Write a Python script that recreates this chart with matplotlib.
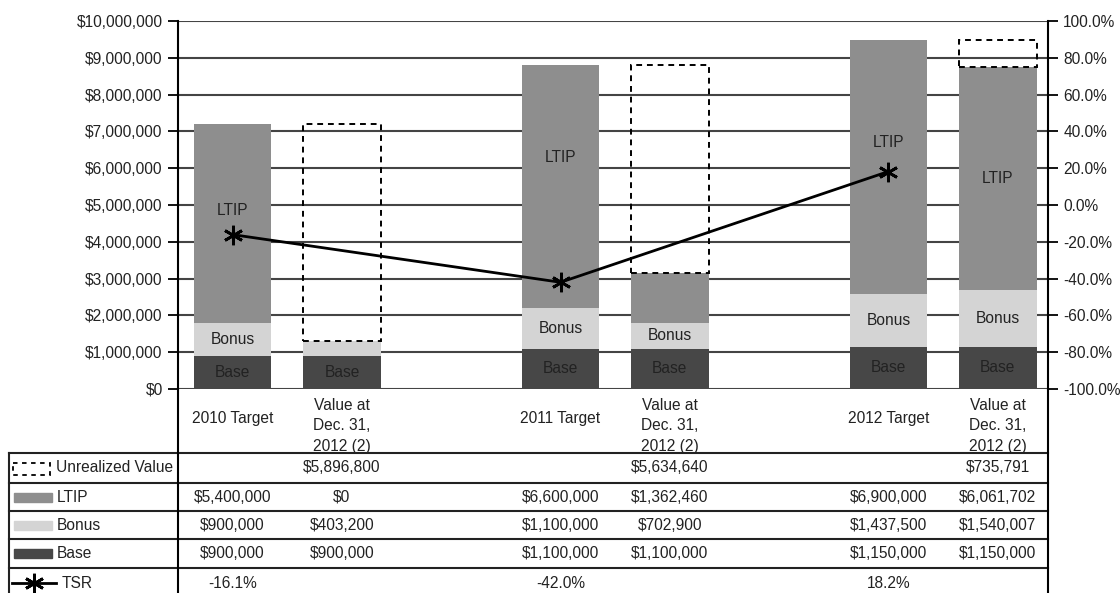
import numpy as np
import matplotlib
matplotlib.use('Agg')
from matplotlib import pyplot as plt
from matplotlib import transforms
from matplotlib.patches import Rectangle
from matplotlib.lines import Line2D
from matplotlib.ticker import FuncFormatter

plt.rcParams['font.family'] = ['Liberation Sans', 'DejaVu Sans']

#******************** 数据 ********************
categories = ['2010 Target', 'Value at\nDec. 31,\n2012 (2)',
              '2011 Target', 'Value at\nDec. 31,\n2012 (2)',
              '2012 Target', 'Value at\nDec. 31,\n2012 (2)']
positions = [0, 1, 3, 4, 6, 7]
is_value = [False, True, False, True, False, True]
base = [900000, 900000, 1100000, 1100000, 1150000, 1150000]
bonus = [900000, 403200, 1100000, 702900, 1437500, 1540007]
ltip = [5400000, 0, 6600000, 1362460, 6900000, 6061702]
unrealized = [0, 5896800, 0, 5634640, 0, 735791]
tsr_pos = [0, 3, 6]
tsr = [-16.1, -42.0, 18.2]

#******************** 样式 ********************
c_base, c_bonus, c_ltip = '#474747', '#d4d4d4', '#8e8e8e'
txt = '#222222'
fs = 11.2
W, H = 1120, 593
ltip_shift = [0.35e6, 0, 0.8e6, 0, 0.65e6, 0]   # 标签位置微调

fig = plt.figure(figsize=(W / 100, H / 100), dpi=100)
ax = fig.add_axes([178 / W, (H - 389) / H, 870 / W, 368 / H])
ax.set_xlim(-0.5, 7.46)
ax.set_ylim(0, 10000000)
ax.set_yticks(np.arange(0, 10000001, 1000000))
ax.yaxis.set_major_formatter(FuncFormatter(lambda v, p: '${:,.0f}'.format(v)))
ax.set_xticks([])
ax.set_axisbelow(True)
ax.yaxis.grid(True, color='#444444', lw=1.5)
for s in ['top', 'bottom', 'right']:
    ax.spines[s].set_visible(False)
ax.spines['left'].set_linewidth(1.5)
ax.tick_params(axis='y', length=7, width=1.3, labelsize=fs, labelcolor=txt, pad=4)

b = np.array(base, dtype=float)
bo = np.array(bonus, dtype=float)
lt = np.array(ltip, dtype=float)
un = np.array(unrealized, dtype=float)
pos = np.array(positions)
wd = 0.71
ax.bar(pos, b, wd, color=c_base, zorder=2)
ax.bar(pos, bo, wd, bottom=b, color=c_bonus, zorder=2)
ax.bar(pos, lt, wd, bottom=b + bo, color=c_ltip, zorder=2)
m = un > 0
ax.bar(pos[m], un[m], wd, bottom=(b + bo + lt)[m], fill=False, edgecolor='black',
       linestyle=(0, (3, 2.5)), lw=1.4, zorder=3)

# 柱内文字
for i, x in enumerate(positions):
    ax.text(x, b[i] / 2, 'Base', ha='center', va='center', fontsize=fs, color=txt, zorder=4)
    if bo[i] > 500000:
        ax.text(x, b[i] + bo[i] / 2, 'Bonus', ha='center', va='center', fontsize=fs, color=txt, zorder=4)
    if lt[i] > 2000000:
        ax.text(x, b[i] + bo[i] + lt[i] / 2 + ltip_shift[i], 'LTIP', ha='center', va='center',
                fontsize=fs, color=txt, zorder=4)

# TSR 折线（右轴）
ax2 = ax.twinx()
ax2.set_ylim(-100, 100)
ax2.set_yticks(np.arange(-100, 101, 20))
ax2.yaxis.set_major_formatter(FuncFormatter(lambda v, p: '{:.1f}%'.format(v)))
for s in ['top', 'bottom', 'left']:
    ax2.spines[s].set_visible(False)
ax2.spines['right'].set_linewidth(1.5)
ax2.tick_params(axis='y', length=7, width=1.3, labelsize=fs, labelcolor=txt, pad=4)
ax2.plot(tsr_pos, tsr, color='black', lw=2, marker=(6, 2, 0), markersize=14, mew=2)

#******************** 下方表格 ********************
tab = fig.add_axes([0, 0, 1, 1], zorder=-1)
tab.set_xlim(0, W)
tab.set_ylim(H, 0)
tab.axis('off')
bt = transforms.blended_transform_factory(ax.transData, tab.transData)

# 类别标签
for i, x in enumerate(positions):
    y = 426 if is_value[i] else 418
    tab.text(x, y, categories[i], transform=bt, ha='center', va='center',
             fontsize=fs, color=txt, linespacing=1.45)

rows = [453, 483, 511, 539, 568]
for y in rows:
    tab.plot([9, 1048], [y, y], color='#222222', lw=1.5)
tab.plot([9, 9], [453, H], color='#222222', lw=1.5)
tab.plot([178, 178], [389, H], color='black', lw=1.5)
tab.plot([1048, 1048], [389, H], color='black', lw=1.5)

row_y = [468, 497, 525, 553, 583]
for i, x in enumerate(positions):
    if is_value[i]:
        tab.text(x, row_y[0], '${:,.0f}'.format(un[i]), transform=bt, ha='center', va='center', fontsize=fs, color=txt)
    tab.text(x, row_y[1], '${:,.0f}'.format(lt[i]), transform=bt, ha='center', va='center', fontsize=fs, color=txt)
    tab.text(x, row_y[2], '${:,.0f}'.format(bo[i]), transform=bt, ha='center', va='center', fontsize=fs, color=txt)
    tab.text(x, row_y[3], '${:,.0f}'.format(b[i]), transform=bt, ha='center', va='center', fontsize=fs, color=txt)
for x, v in zip(tsr_pos, tsr):
    tab.text(x, row_y[4], '{:.1f}%'.format(v), transform=bt, ha='center', va='center', fontsize=fs, color=txt)

# 图例列
tab.add_patch(Rectangle((13, 463), 37, 12, fill=False, edgecolor='black', linestyle=(0, (2.5, 2.5)), lw=1.3))
tab.text(56, row_y[0], 'Unrealized Value', ha='left', va='center', fontsize=fs, color=txt)
for y, c, name in zip(row_y[1:4], [c_ltip, c_bonus, c_base], ['LTIP', 'Bonus', 'Base']):
    tab.add_patch(Rectangle((14, y - 4.5), 38, 9, color=c))
    tab.text(57, y, name, ha='left', va='center', fontsize=fs, color=txt)
tab.add_line(Line2D([12, 56], [row_y[4], row_y[4]], color='black', lw=2))
tab.add_line(Line2D([34], [row_y[4]], color='black', marker=(6, 2, 0), markersize=14, mew=2))
tab.text(62, row_y[4], 'TSR', ha='left', va='center', fontsize=fs, color=txt)

plt.savefig('out.png', dpi=100)
